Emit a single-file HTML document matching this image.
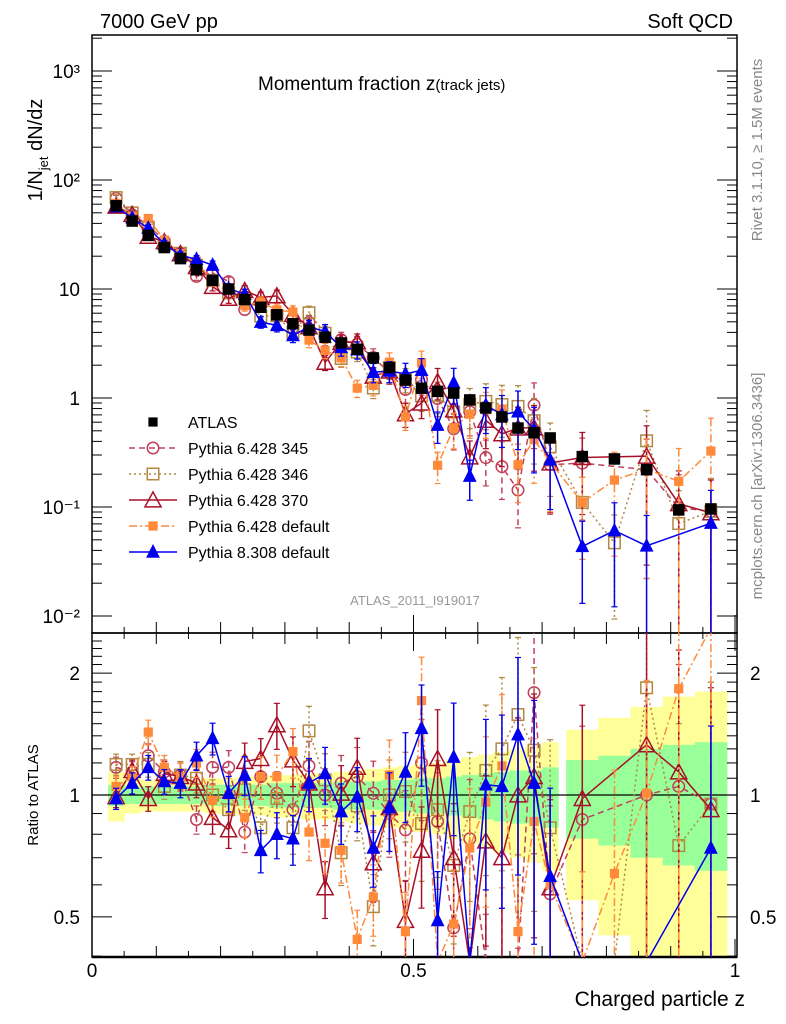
<!DOCTYPE html>
<html><head><meta charset="utf-8"><style>
html,body{margin:0;padding:0;background:#fff;width:786px;height:1024px;overflow:hidden;}
svg{display:block;font-family:"Liberation Sans",sans-serif;}
</style></head><body>
<svg id="chart" width="786" height="1024" viewBox="0 0 786 1024">
<defs>
<clipPath id="cm"><rect x="92" y="35" width="645" height="598"/></clipPath>
<clipPath id="cr"><rect x="92" y="633" width="645" height="324"/></clipPath>
</defs>
<g id="bands" clip-path="url(#cr)"></g>
<g id="grid"></g>
<text x="100" y="28" font-size="20">7000 GeV pp</text>
<text x="733" y="28" font-size="20" text-anchor="end">Soft QCD</text>
<text x="258" y="90" font-size="19">Momentum fraction z<tspan font-size="15">(track jets)</tspan></text>
<text transform="translate(42,150) rotate(-90)" font-size="20" text-anchor="middle">1/N<tspan font-size="13" dy="6">jet</tspan><tspan dy="-6"> dN/dz</tspan></text>
<text transform="translate(38,795) rotate(-90)" font-size="15" text-anchor="middle">Ratio to ATLAS</text>
<text x="745" y="1006" font-size="21" text-anchor="end">Charged particle z</text>
<text transform="translate(762,150) rotate(-90)" font-size="15" fill="#888" text-anchor="middle">Rivet 3.1.10, ≥ 1.5M events</text>
<text transform="translate(762,486) rotate(-90)" font-size="15" fill="#888" text-anchor="middle">mcplots.cern.ch [arXiv:1306.3436]</text>
<text x="415" y="605" font-size="13" fill="#999" text-anchor="middle">ATLAS_2011_I919017</text>
<g id="series"></g>
<g id="legend"></g>
</svg>
<script>
const zCenters=[0.0375,0.0625,0.0875,0.1125,0.1375,0.1625,0.1875,0.2125,0.2375,0.2625,0.2875,0.3125,0.3375,0.3625,0.3875,0.4125,0.4375,0.4625,0.4875,0.5125,0.5375,0.5625,0.5875,0.6125,0.6375,0.6625,0.6875,0.7125,0.7625,0.8125,0.8625,0.9125,0.9625];
const atlasValues=[58,42,31,24,19,15,12,10,8,6.8,5.8,4.8,4.2,3.6,3.2,2.8,2.33,1.9,1.46,1.23,1.15,1.11,0.96,0.81,0.67,0.53,0.48,0.43,0.29,0.276,0.22,0.094,0.096];
const bandGreen=[0.06,0.05,0.05,0.05,0.05,0.05,0.06,0.06,0.06,0.06,0.07,0.07,0.07,0.07,0.08,0.08,0.08,0.09,0.09,0.10,0.10,0.11,0.12,0.13,0.14,0.15,0.15,0.17,0.22,0.25,0.30,0.33,0.35];
const bandYellow=[0.14,0.10,0.09,0.09,0.09,0.09,0.10,0.10,0.11,0.11,0.12,0.12,0.13,0.13,0.14,0.15,0.16,0.17,0.18,0.19,0.20,0.22,0.24,0.26,0.28,0.30,0.32,0.35,0.45,0.55,0.65,0.75,0.8];
const errRel=[0.06,0.06,0.07,0.07,0.08,0.08,0.09,0.10,0.11,0.12,0.13,0.14,0.15,0.16,0.17,0.18,0.2,0.22,0.25,0.28,0.32,0.36,0.4,0.45,0.5,0.55,0.6,0.65,0.7,0.8,0.9,1,1];
const ratio345=[1.17,1.14,1.25,1.14,1.12,0.87,1.17,1.17,0.81,1.11,1.01,0.92,1.18,1.0,1.07,1.11,1.01,0.90,0.82,1.20,0.86,0.47,0.78,0.35,0.35,0.27,1.79,0.57,0.87,null,1.0,1.05,0.95];
const ratio346=[1.19,1.19,1.19,1.05,1.12,1.10,1.0,0.92,1.03,0.83,0.98,0.83,1.44,1.09,0.72,0.94,0.53,1.0,1.02,0.85,0.92,0.67,0.91,1.15,1.3,1.58,1.29,0.83,0.38,0.17,1.84,0.75,0.95];
const ratio370=[0.99,1.15,0.98,1.13,1.11,1.07,0.88,0.82,1.21,1.23,1.49,1.22,1.07,0.59,1.01,1.17,0.68,0.93,0.49,0.73,1.23,0.70,0.3,0.77,0.70,1.0,1.11,0.59,0.98,null,1.33,1.14,0.92];
const ratioP6def=[1.05,1.11,1.43,1.17,1.11,1.20,0.97,1.0,0.88,1.11,1.11,1.28,0.81,0.76,0.73,0.44,0.56,1.12,0.46,1.71,0.21,0.48,0.74,0.96,1.18,0.46,0.86,0.6,0.38,0.64,1.01,1.83,3.4];
const ratioP8def=[0.98,1.07,1.17,1.08,1.07,1.25,1.38,1.01,1.12,0.73,0.80,0.78,1.07,1.13,0.91,0.99,0.74,0.93,1.14,1.46,0.49,1.24,0.2,1.06,1.05,1.41,1.07,0.63,0.15,0.22,0.2,null,0.74];
const yMainTicks=[0.01,0.1,1,10,100,1000];
const yMainLabels=["10⁻²","10⁻¹","1","10","10²","10³"];
const yRatioTicks=[0.5,1,2];
const yRatioLabels=["0.5","1","2"];
const xTicks=[0,0.5,1];
const xLabels=["0","0.5","1"];

const NS="http://www.w3.org/2000/svg";
const X=z=>92+643*z;
const YM=v=>398-109*Math.log10(v);
const YR=r=>795-405*Math.log10(r);
const cl=(y,a,b)=>Math.min(Math.max(y,a),b);
function mk(tag,attrs,parent){const e=document.createElementNS(NS,tag);for(const k in attrs)e.setAttribute(k,attrs[k]);parent.appendChild(e);return e;}
const grid=document.getElementById('grid'),ser=document.getElementById('series'),bands=document.getElementById('bands'),leg=document.getElementById('legend');

const hw=[];for(let i=0;i<zCenters.length;i++){hw.push(i<28?0.0125:0.025);}
for(const [arr,col,nm] of [[bandYellow,'#ffff99','band-yellow'],[bandGreen,'#99ff99','band-green']]){
 for(let i=0;i<zCenters.length;i++){
  const lo=1-arr[i],hi=1+arr[i];
  const yt=cl(YR(hi),633,957),yb=lo>0?cl(YR(lo),633,957):957;
  const r=mk('rect',{x:X(zCenters[i]-hw[i]),y:yt,width:643*2*hw[i]+0.5,height:yb-yt,fill:col},bands);
  
  
 }
}
mk('rect',{x:92,y:35,width:645,height:598,fill:'none',stroke:'#000','stroke-width':1.5},grid);
mk('rect',{x:92,y:633,width:645,height:324,fill:'none',stroke:'#000','stroke-width':1.5},grid);
mk('line',{x1:92,y1:957,x2:737,y2:957,stroke:'#000','stroke-width':2.5},grid);
mk('line',{x1:92,y1:795,x2:737,y2:795,stroke:'#000','stroke-width':1.2},grid);
for(let d=-2;d<=3;d++){
 for(let m=1;m<=9;m++){
  const v=m*Math.pow(10,d);const y=YM(v);if(y<35||y>633)continue;
  const L=m==1?20:10;
  mk('line',{x1:92,y1:y,x2:92+L,y2:y,stroke:'#000','stroke-width':1},grid);
  mk('line',{x1:737,y1:y,x2:737-L,y2:y,stroke:'#000','stroke-width':1},grid);
 }
}
yMainTicks.forEach((v,i)=>{
 const t=mk('text',{x:80,y:YM(v)+7,'font-size':19,'text-anchor':'end'},grid);t.textContent=yMainLabels[i];
 
 
});
for(let r=0.4;r<=2.5;r+=0.1){const y=YR(r);if(y<633||y>957)continue;
 const maj=[0.5,1,2].some(v=>Math.abs(v-r)<1e-6);const L=maj?20:10;
 mk('line',{x1:92,y1:y,x2:92+L,y2:y,stroke:'#000','stroke-width':1},grid);
 mk('line',{x1:737,y1:y,x2:737-L,y2:y,stroke:'#000','stroke-width':1},grid);}
yRatioTicks.forEach((v,i)=>{
 const t=mk('text',{x:80,y:YR(v)+7,'font-size':19,'text-anchor':'end'},grid);t.textContent=yRatioLabels[i];
 
 
 const t2=mk('text',{x:750,y:YR(v)+7,'font-size':19},grid);t2.textContent=yRatioLabels[i];
 
 
});
for(let k=0;k<=20;k++){const z=k*0.05;const x=X(z);const L=k%10==0?18:(k%2==0?11:6);
 mk('line',{x1:x,y1:957,x2:x,y2:957-L,stroke:'#000','stroke-width':1},grid);
 mk('line',{x1:x,y1:633,x2:x,y2:633-L,stroke:'#000','stroke-width':1},grid);
 mk('line',{x1:x,y1:633,x2:x,y2:633+L,stroke:'#000','stroke-width':1},grid);}
xTicks.forEach((z,i)=>{const t=mk('text',{x:X(z),y:977,'font-size':19,'text-anchor':'middle'},grid);t.textContent=xLabels[i];
 
 });

function marker(kind,col,x,y,g,s){
 s=(s||1)*1.15;
 if(kind=='circle')return mk('circle',{cx:x,cy:y,r:5*s,fill:'none',stroke:col,'stroke-width':1.5},g);
 if(kind=='osq')return mk('rect',{x:x-5*s,y:y-5*s,width:10*s,height:10*s,fill:'none',stroke:col,'stroke-width':1.5},g);
 if(kind=='fsq')return mk('rect',{x:x-4*s,y:y-4*s,width:8*s,height:8*s,fill:col},g);
 if(kind=='bsq')return mk('rect',{x:x-5*s,y:y-5*s,width:10*s,height:10*s,fill:col},g);
 if(kind=='otri')return mk('polygon',{points:`${x},${y-7*s} ${x-7*s},${y+6*s} ${x+7*s},${y+6*s}`,fill:'none',stroke:col,'stroke-width':1.5},g);
 if(kind=='ftri')return mk('polygon',{points:`${x},${y-7*s} ${x-6*s},${y+5*s} ${x+6*s},${y+5*s}`,fill:col},g);
}
const seriesDefs=[
 {name:'pythia-6428-345',label:'Pythia 6.428 345',ratio:ratio345,col:'#c0405a',dash:'6,4',mk:'circle'},
 {name:'pythia-6428-346',label:'Pythia 6.428 346',ratio:ratio346,col:'#b08840',dash:'2,3',mk:'osq'},
 {name:'pythia-6428-370',label:'Pythia 6.428 370',ratio:ratio370,col:'#a81028',dash:'',mk:'otri'},
 {name:'pythia-6428-default',label:'Pythia 6.428 default',ratio:ratioP6def,col:'#ff8a3a',dash:'8,3,2,3',mk:'fsq'},
 {name:'pythia-8308-default',label:'Pythia 8.308 default',ratio:ratioP8def,col:'#0000ee',dash:'',mk:'ftri'}
];
const ga=mk('g',{'clip-path':'url(#cm)'},ser);


for(const s of seriesDefs){
 for(const [panel,clip,Yf,valf,y0,y1] of [['main','cm',YM,i=>s.ratio[i]*atlasValues[i],30,640],['ratio','cr',YR,i=>s.ratio[i],628,962]]){
  const g=mk('g',{'clip-path':`url(#${clip})`},ser);
  
  
  const pts=[];
  for(let i=0;i<zCenters.length;i++){if(s.ratio[i]==null)continue;
   const v=valf(i),x=X(zCenters[i]),y=cl(Yf(v),y0,y1);pts.push(x+','+y);
   const lo=(1-errRel[i])>0.001?cl(Yf(v*(1-errRel[i])),y0,y1):y1;
   const hi=cl(Yf(v*(1+errRel[i])),y0,y1);
   mk('line',{x1:x,y1:hi,x2:x,y2:lo,stroke:s.col,'stroke-width':1.5,'stroke-dasharray':s.dash},g);
   mk('line',{x1:x-3,y1:hi,x2:x+3,y2:hi,stroke:s.col,'stroke-width':1.2},g);
   mk('line',{x1:x-3,y1:lo,x2:x+3,y2:lo,stroke:s.col,'stroke-width':1.2},g);
  }
  mk('polyline',{points:pts.join(' '),fill:'none',stroke:s.col,'stroke-width':1.5,'stroke-dasharray':s.dash},g);
  for(let i=0;i<zCenters.length;i++){if(s.ratio[i]==null)continue;
   const yy=Yf(valf(i));if(yy<y0||yy>y1)continue;
   const m=marker(s.mk,s.col,X(zCenters[i]),yy,g);
   
   }
 }
}
for(let i=0;i<zCenters.length;i++){
 const x=X(zCenters[i]),y=YM(atlasValues[i]);
 const m=marker('bsq','#000',x,y,ga);
 
 
}
ser.insertBefore(ga,null);
const rows=[{label:'ATLAS',col:'#000',dash:null,mk:'bsq',name:'atlas'}].concat(seriesDefs);
rows.forEach((s,k)=>{
 const y=422+26*k;
 const g=mk('g',{},leg);
 
 
 if(s.dash!==null)mk('line',{x1:129,y1:y,x2:177,y2:y,stroke:s.col,'stroke-width':1.5,'stroke-dasharray':s.dash},g);
 marker(s.mk,s.col,153,y,g,s.mk=='bsq'?0.8:1);
 const t=mk('text',{x:188,y:y+6,'font-size':16},g);t.textContent=s.label;
});
</script>
</body></html>
